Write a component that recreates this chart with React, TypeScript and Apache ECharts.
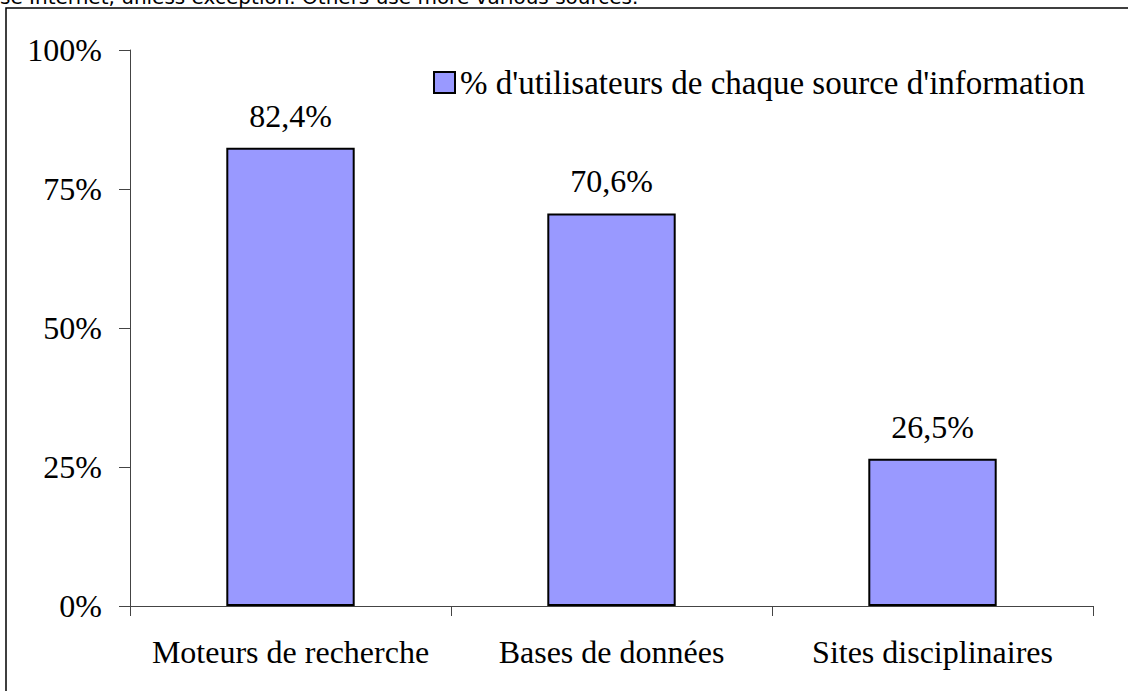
import React, { useEffect, useRef } from "react";
import * as echarts from "echarts";

const categories = ["Moteurs de recherche", "Bases de données", "Sites disciplinaires"];
const values = [82.4, 70.6, 26.5];
const seriesName = "% d'utilisateurs de chaque source d'information";
const headerText = "se Internet, unless exception. Others use more various sources.";

export default function App() {
  const ref = useRef<HTMLDivElement>(null);
  useEffect(() => {
    if (!ref.current) return;
    const chart = echarts.init(ref.current, null, { renderer: "svg" });
    const serif = "Liberation Serif, Times New Roman, serif";
    chart.setOption({
      animation: false,
      backgroundColor: "#fff",
      graphic: [
        {
          type: "text",
          left: 0,
          top: -13,
          style: {
            text: headerText,
            fontFamily: "DejaVu Sans, Verdana, sans-serif",
            fontSize: 20,
            fill: "#000",
          },
        },
        {
          type: "rect",
          shape: { x: 6, y: 8, width: 1300, height: 900 },
          style: { fill: "none", stroke: "#000", lineWidth: 1.5 },
        },
      ],
      legend: {
        left: 428,
        top: 61,
        itemWidth: 21,
        itemHeight: 21,
        icon: "rect",
        data: [seriesName],
        textStyle: { fontFamily: serif, fontSize: 33, color: "#000" },
      },
      grid: { left: 130, right: 35, top: 50, bottom: 85 },
      xAxis: {
        type: "category",
        data: categories,
        axisLine: { lineStyle: { color: "#444", width: 1 } },
        axisTick: { show: true, interval: 0, length: 10, lineStyle: { color: "#444" } },
        axisLabel: { interval: 0, fontFamily: serif, fontSize: 32, color: "#000", margin: 30 },
      },
      yAxis: {
        type: "value",
        min: 0,
        max: 100,
        interval: 25,
        splitLine: { show: false },
        axisLine: { show: true, lineStyle: { color: "#444", width: 1 } },
        axisTick: { show: true, length: 11, lineStyle: { color: "#444" } },
        axisLabel: {
          fontFamily: serif,
          fontSize: 32,
          color: "#000",
          margin: 28,
          formatter: "{value}%",
        },
      },
      series: [
        {
          name: seriesName,
          type: "bar",
          data: values,
          barWidth: "40%",
          itemStyle: { color: "#9999FF", borderColor: "#000", borderWidth: 2 },
          label: {
            show: true,
            position: "top",
            distance: 16,
            fontFamily: serif,
            fontSize: 32,
            color: "#000",
            formatter: (p: any) => p.value.toFixed(1).replace(".", ",") + "%",
          },
        },
      ],
    });
    return () => chart.dispose();
  }, []);
  return (
    <div
      ref={ref}
      style={{ position: "fixed", left: 0, top: 0, width: 1128, height: 691 }}
    />
  );
}
